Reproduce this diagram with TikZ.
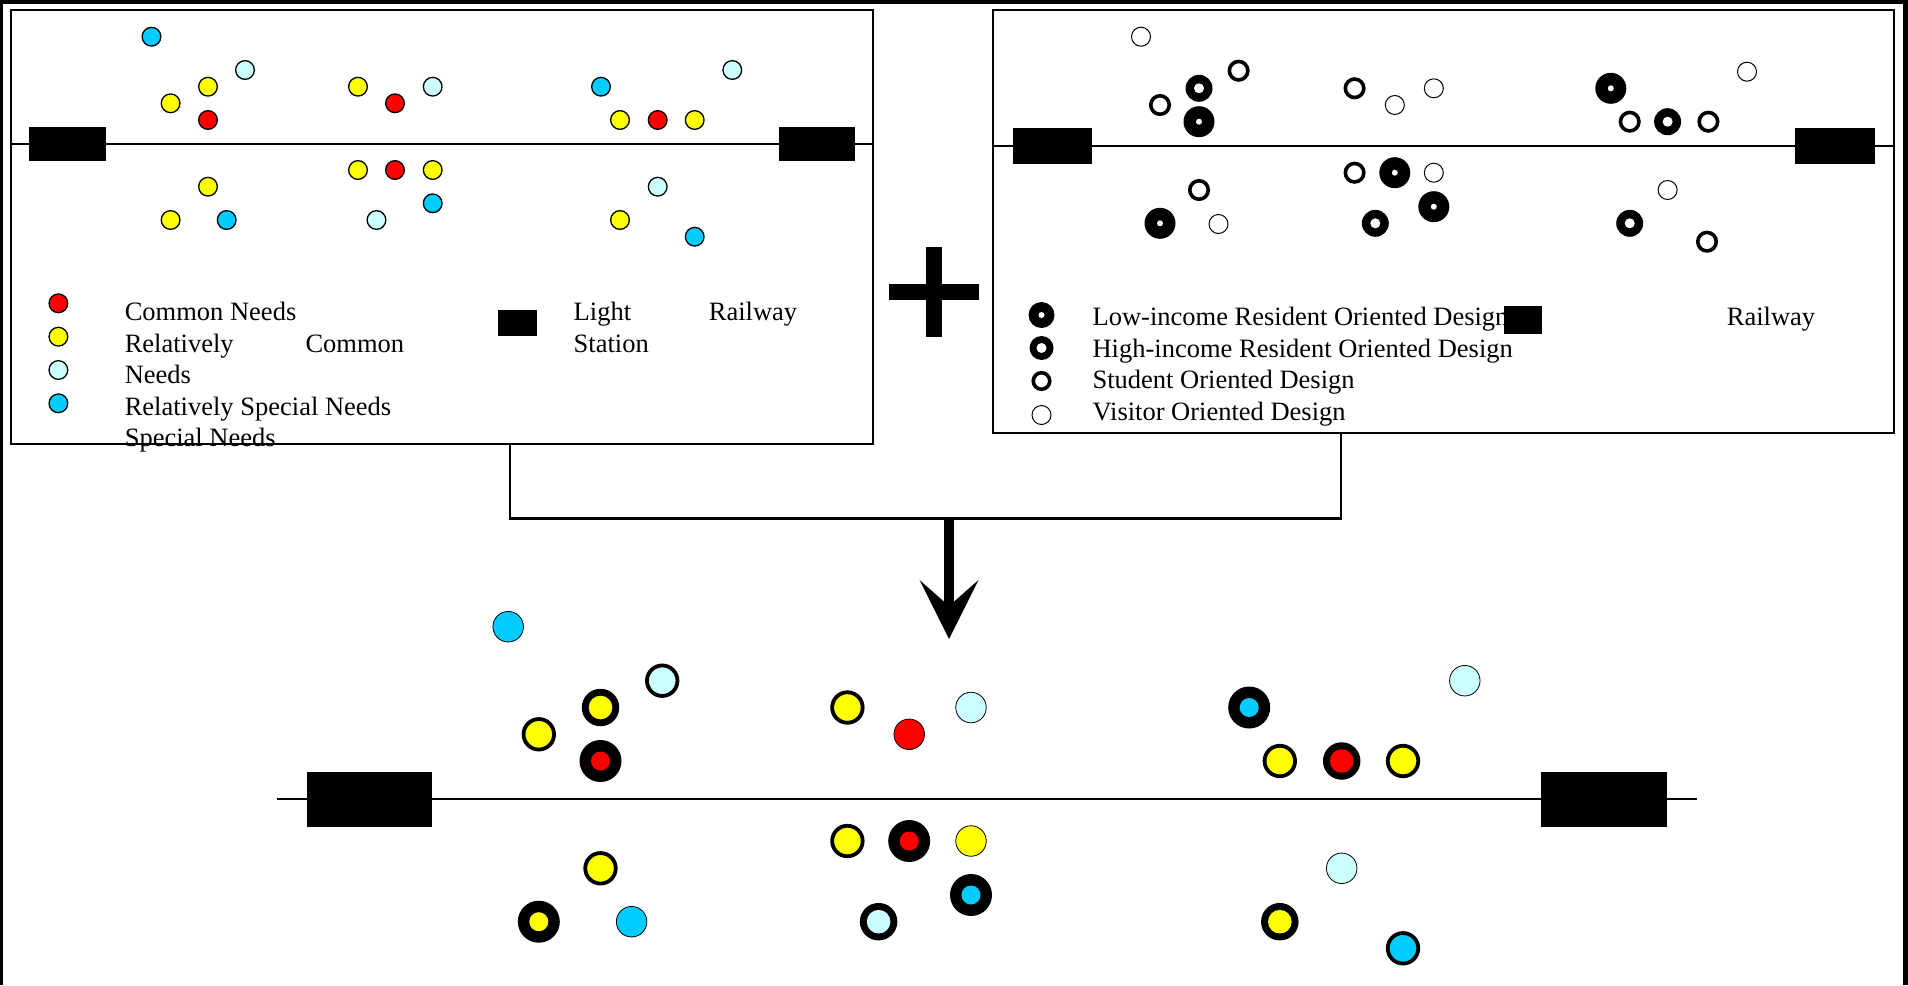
\documentclass[tikz,border=0pt]{standalone}
\usepackage{fontspec}
\setmainfont{Liberation Serif}
\usetikzlibrary{arrows.meta}
\definecolor{cRed}{HTML}{FF0000}
\definecolor{cYel}{HTML}{FFFF00}
\definecolor{cLc}{HTML}{CCFFFF}
\definecolor{cCy}{HTML}{00CCFF}
\begin{document}
\begin{tikzpicture}[x=1pt,y=-1pt,
 need/.style={circle,draw=black,line width=1.3pt,fill=#1,minimum size=18.7pt,inner sep=0pt},
 lowd/.style={circle,fill=black,minimum size=31pt,inner sep=0pt,path picture={\fill[white] (path picture bounding box.center) circle (3pt);}},
 highd/.style={circle,fill=black,minimum size=27pt,inner sep=0pt,path picture={\fill[white] (path picture bounding box.center) circle (5pt);}},
 stud/.style={circle,draw=black,line width=3.6pt,fill=white,minimum size=18.5pt,inner sep=0pt},
 visd/.style={circle,draw=black,line width=1pt,fill=white,minimum size=19pt,inner sep=0pt},
 lowc/.style={circle,fill=black,minimum size=42pt,inner sep=0pt,path picture={\fill[#1] (path picture bounding box.center) circle (9.5pt);}},
 highc/.style={circle,fill=black,minimum size=37.5pt,inner sep=0pt,path picture={\fill[#1] (path picture bounding box.center) circle (11.8pt);}},
 studc/.style={circle,draw=black,line width=3.8pt,fill=#1,minimum size=30.5pt,inner sep=0pt},
 visc/.style={circle,draw=black,line width=0.8pt,fill=#1,minimum size=30.5pt,inner sep=0pt},
 station/.style={rectangle,fill=black,inner sep=0pt},
 panel/.style={rectangle,draw=black,line width=1.2pt,inner sep=0pt},
 rail/.style={line width=2pt},
 lbl/.style={anchor=base west,inner sep=0pt,font=\fontsize{26.5}{30}\selectfont},
 link/.style={line width=2.5pt}
]
\useasboundingbox (0,0) rectangle (1908,985);
% outer frame (top, left, right)
\fill[black] (0,0) rectangle (1908,3.5);
\fill[black] (0,0) rectangle (3,985);
\fill[black] (1902.5,0) rectangle (1908,985);

% ---------- left panel ----------
\node[panel,minimum width=862pt,minimum height=434pt] (lbox) at (442,227) {};
\coordinate (lr1) at (11,144);
\coordinate (lr2) at (873,144);
\draw[rail] (lr1) -- (lr2);
\node[station,minimum width=77pt,minimum height=34pt] (lst1) at (67.5,144) {};
\node[station,minimum width=76pt,minimum height=34pt] (lst2) at (817,144) {};
\foreach \x/\y/\c [count=\i] in {
 151.5/36.7/cCy, 245/70/cLc, 208/86.7/cYel, 170.6/103.3/cYel, 208/120/cRed,
 358/86.7/cYel, 395/103.3/cRed, 432.7/86.7/cLc,
 601/86.7/cCy, 732.3/70/cLc, 620/120/cYel, 657.7/120/cRed, 694.7/120/cYel,
 208/186.7/cYel, 170.6/220/cYel, 226.7/220/cCy,
 358/170/cYel, 395/170/cRed, 432.7/170/cYel, 432.7/203.3/cCy, 376.5/220/cLc,
 657.7/186.7/cLc, 620/220/cYel, 694.7/236.7/cCy}
 \node[need=\c] (a\i) at (\x,\y) {};
% legend left
\node[need=cRed] (lg1) at (58.4,303.3) {};
\node[need=cYel] (lg2) at (58.4,336.7) {};
\node[need=cLc] (lg3) at (58.4,370) {};
\node[need=cCy] (lg4) at (58.4,403.3) {};
\node[lbl] (t1) at (124.6,320.7) {Common Needs};
\node[lbl] (t2) at (124.6,352) {\hbox to 279.4pt{Relatively\hfill Common}};
\node[lbl] (t3) at (124.6,383) {Needs};
\node[lbl] (t4) at (124.6,415.7) {Relatively Special Needs};
\node[lbl] (t5) at (124.6,446.7) {Special Needs};
\node[lbl] (t6) at (573.5,320.7) {\hbox to 223.5pt{Light\hfill Railway}};
\node[lbl] (t7) at (573.5,352) {Station};
\node[station,minimum width=39.3pt,minimum height=26pt] (lgs) at (517.4,323) {};

% ---------- plus ----------
\fill[black] (926,246.7) rectangle (942,337.3);
\fill[black] (888.7,284) rectangle (979.3,300);

% ---------- right panel ----------
\node[panel,minimum width=901pt,minimum height=423pt] (rbox) at (1443.5,221.5) {};
\coordinate (rr1) at (993,145.7);
\coordinate (rr2) at (1894,145.7);
\draw[rail] (rr1) -- (rr2);
\node[station,minimum width=79pt,minimum height=36pt] (rst1) at (1052.5,146) {};
\node[station,minimum width=80pt,minimum height=36pt] (rst2) at (1835,146) {};
\foreach \x/\y [count=\i] in {1199/121.7, 1610.8/88.3, 1160/223.3, 1394.8/172.7, 1433.8/206.7}
 \node[lowd] (rl\i) at (\x,\y) {};
\foreach \x/\y [count=\i] in {1199/88.3, 1667.6/121.7, 1375.3/223.3, 1629.7/223.3}
 \node[highd] (rh\i) at (\x,\y) {};
\foreach \x/\y [count=\i] in {1238.6/70.7, 1160/105, 1354.6/88.3, 1629.7/121.7, 1708.4/121.7, 1199/190, 1354.6/172.7, 1707/241.7}
 \node[stud] (rs\i) at (\x,\y) {};
\foreach \x/\y [count=\i] in {1141/36.7, 1394.8/105, 1433.8/88.3, 1747/71.7, 1218.5/224, 1433.8/172.7, 1667.6/190}
 \node[visd] (rv\i) at (\x,\y) {};
% legend right
\node[lowd,minimum size=26pt] (rg1) at (1041.5,315) {};
\node[highd,minimum size=24pt] (rg2) at (1041.5,348) {};
\node[stud,minimum size=16.5pt] (rg3) at (1041.5,381) {};
\node[visd,minimum size=19pt] (rg4) at (1041.5,415) {};
\node[lbl] (u1) at (1092.4,325.5) {Low-income Resident Oriented Design};
\node[lbl] (u2) at (1726.7,325.5) {Railway};
\node[lbl] (u3) at (1092.4,357) {High-income Resident Oriented Design};
\node[lbl] (u4) at (1092.4,388.5) {Student Oriented Design};
\node[lbl] (u5) at (1092.4,420) {Visitor Oriented Design};
\node[station,minimum width=38pt,minimum height=28pt] (rgs) at (1523,320) {};

% ---------- connector and arrow ----------
\coordinate (lj) at (510,444);
\coordinate (rj) at (1341,433);
\coordinate (mj) at (949,518.3);
\coordinate (tip) at (949,639);
\draw[link] (lj) |- (mj) -| (rj);
\draw[line width=10pt,-{Stealth[length=59pt,width=59pt,inset=26pt,line width=0pt]}] (mj) -- (tip);

% ---------- combined plan ----------
\coordinate (br1) at (276.5,799);
\coordinate (br2) at (1697.3,799);
\draw[rail] (br1) -- (br2);
\node[station,minimum width=125pt,minimum height=55pt] (bst1) at (369.5,799.2) {};
\node[station,minimum width=126pt,minimum height=55pt] (bst2) at (1604,799.2) {};
\foreach \x/\y/\c [count=\i] in {600.5/761/cRed, 1249.2/707.5/cCy, 538.8/921.7/cYel, 909.2/841/cRed, 971/895/cCy}
 \node[lowc=\c] (bl\i) at (\x,\y) {};
\foreach \x/\y/\c [count=\i] in {600.5/707.5/cYel, 1341.7/761/cRed, 878.6/921.7/cLc, 1279.8/921.7/cYel}
 \node[highc=\c] (bh\i) at (\x,\y) {};
\foreach \x/\y/\c [count=\i] in {662.2/680.7/cLc, 538.8/734.3/cYel, 847.4/707.5/cYel, 1279.8/761/cYel, 1403/761/cYel, 600.5/868.3/cYel, 847.4/841/cYel, 1403/948.3/cCy}
 \node[studc=\c] (bs\i) at (\x,\y) {};
\foreach \x/\y/\c [count=\i] in {508.2/626.7/cCy, 909.2/734.3/cRed, 971/707.5/cLc, 1464.8/680.7/cLc, 631.6/921.7/cCy, 971/841/cYel, 1341.7/868.3/cLc}
 \node[visc=\c] (bv\i) at (\x,\y) {};
\end{tikzpicture}
\end{document}
